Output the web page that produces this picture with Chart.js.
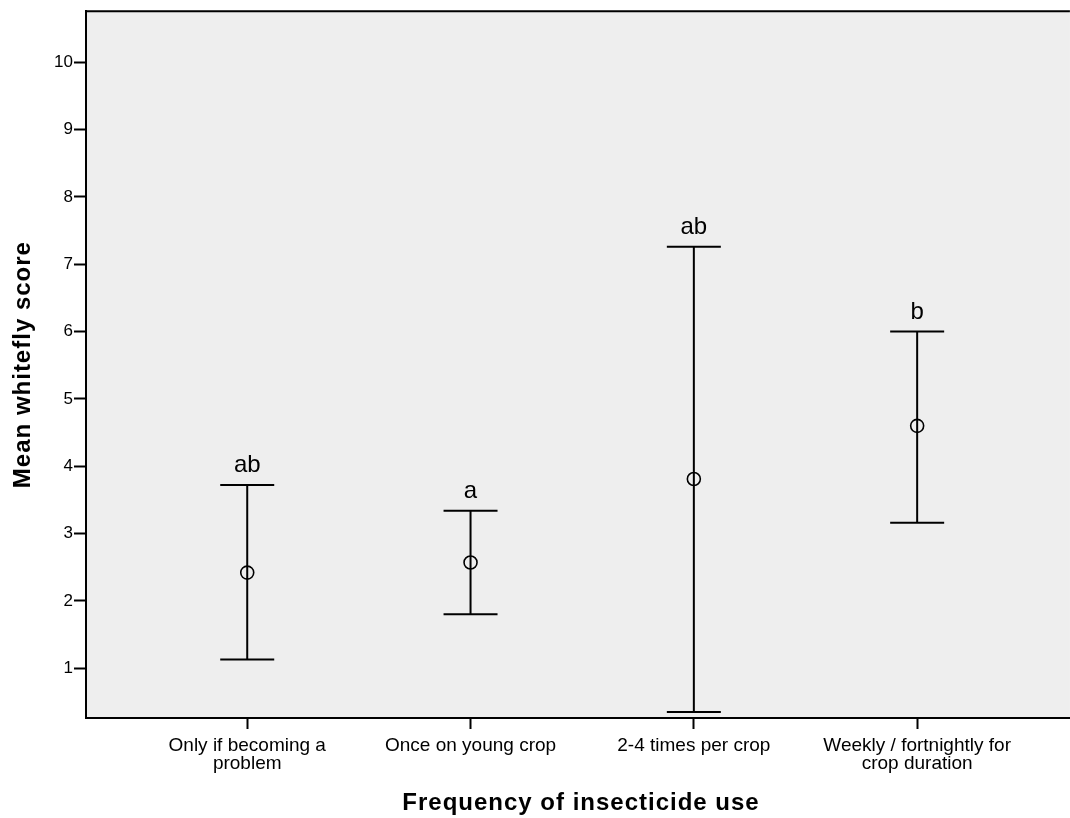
<!DOCTYPE html>
<html>
<head>
<meta charset="utf-8">
<script src="https://cdn.jsdelivr.net/npm/chart.js@4.4.1/dist/chart.umd.min.js"></script>
<style>
  html, body { margin: 0; padding: 0; background: #fff; overflow: hidden; }
  #wrap { width: 1078px; height: 818px; position: relative; }
</style>
</head>
<body>
<div id="wrap"><canvas id="chart" width="1078" height="818"></canvas></div>
<script>
// categories (x tick labels, multi-line)
const categories = [
  ["Only if becoming a", "problem"],
  ["Once on young crop"],
  ["2-4 times per crop"],
  ["Weekly / fortnightly for", "crop duration"]
];
const means = [2.42, 2.57, 3.81, 4.60];
const lowerCI = [1.13, 1.80, 0.35, 3.16];
const upperCI = [3.72, 3.34, 7.26, 6.00];
const letters = ["ab", "a", "ab", "b"];
const yTicks = [1, 2, 3, 4, 5, 6, 7, 8, 9, 10];
const xTitle = "Frequency of insecticide use";
const yTitle = "Mean whitefly score";

const FONT = "'Liberation Sans', Arial, sans-serif";

// background, top border and axis titles
const plotBox = {
  id: "plotBox",
  beforeDraw(chart) {
    const { ctx, chartArea: a } = chart;
    ctx.save();
    ctx.fillStyle = "#eeeeee";
    ctx.fillRect(a.left, a.top, a.right - a.left, a.bottom - a.top);
    ctx.restore();
  },
  afterDraw(chart) {
    const { ctx, chartArea: a } = chart;
    ctx.save();
    ctx.strokeStyle = "#000";
    ctx.lineWidth = 2;
    ctx.beginPath();
    ctx.moveTo(a.left, a.top);
    ctx.lineTo(a.right, a.top);
    ctx.stroke();

    ctx.fillStyle = "#000";
    ctx.font = "bold 24px " + FONT;
    ctx.letterSpacing = "1px";
    ctx.textAlign = "center";
    ctx.textBaseline = "middle";
    ctx.fillText(xTitle, 581, 803);
    ctx.translate(23, (a.top + a.bottom) / 2);
    ctx.rotate(-Math.PI / 2);
    ctx.fillText(yTitle, 0, 0);
    ctx.restore();
  }
};

// error bars and group letters
const errorBars = {
  id: "errorBars",
  beforeDatasetsDraw(chart) {
    const { ctx, scales: { x, y } } = chart;
    const cap = 27;
    ctx.save();
    ctx.strokeStyle = "#000";
    ctx.lineWidth = 2;
    means.forEach((m, i) => {
      const px = x.getPixelForValue(i + 1);
      const yl = y.getPixelForValue(lowerCI[i]);
      const yu = y.getPixelForValue(upperCI[i]);
      ctx.beginPath();
      ctx.moveTo(px, yl);
      ctx.lineTo(px, yu);
      ctx.moveTo(px - cap, yl);
      ctx.lineTo(px + cap, yl);
      ctx.moveTo(px - cap, yu);
      ctx.lineTo(px + cap, yu);
      ctx.stroke();
      ctx.fillStyle = "#000";
      ctx.font = "24px " + FONT;
      ctx.textAlign = "center";
      ctx.textBaseline = "alphabetic";
      ctx.fillText(letters[i], px, yu - 13);
    });
    ctx.restore();
  }
};

new Chart(document.getElementById("chart"), {
  type: "scatter",
  data: {
    datasets: [{
      data: means.map((m, i) => ({ x: i + 1, y: m })),
      pointStyle: "circle",
      pointRadius: 6.5,
      pointHoverRadius: 6.5,
      pointBorderWidth: 1.6,
      pointBorderColor: "#000",
      pointBackgroundColor: "rgba(0,0,0,0)"
    }]
  },
  options: {
    responsive: false,
    animation: false,
    layout: { padding: { top: 5, right: 0, left: 0, bottom: 0 } },
    plugins: { legend: { display: false }, tooltip: { enabled: false } },
    scales: {
      x: {
        type: "linear",
        min: 0.278,
        max: 4.684,
        afterBuildTicks: (s) => { s.ticks = categories.map((c, i) => ({ value: i + 1 })); },
        afterFit: (s) => { s.height = 100; },
        border: { color: "#000", width: 2 },
        grid: { drawOnChartArea: false, drawTicks: true, tickLength: 11, tickColor: "#000", tickWidth: 2 },
        ticks: {
          color: "#000",
          font: { family: FONT, size: 19, lineHeight: 0.98 },
          padding: 7,
          maxRotation: 0,
          autoSkip: false,
          callback: (v) => categories[v - 1]
        }
      },
      y: {
        min: 0.26,
        max: 10.76,
        afterBuildTicks: (s) => { s.ticks = yTicks.map((v) => ({ value: v })); },
        afterFit: (s) => { s.width = 86; },
        border: { color: "#000", width: 2 },
        grid: { drawOnChartArea: false, drawTicks: true, tickLength: 12, tickColor: "#000", tickWidth: 2 },
        ticks: {
          color: "#000",
          font: { family: FONT, size: 17 },
          padding: 1
        }
      }
    }
  },
  plugins: [plotBox, errorBars]
});
</script>
</body>
</html>
